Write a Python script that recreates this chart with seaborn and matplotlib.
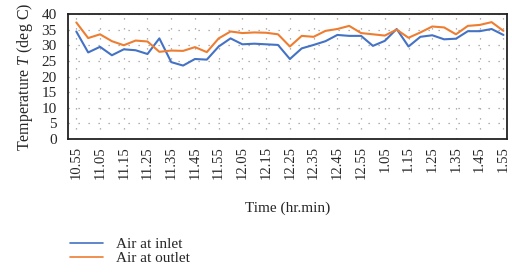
import numpy as np
import pandas as pd
import matplotlib
matplotlib.use("Agg")
import matplotlib.pyplot as plt
import seaborn as sns

# lecturas cada 5 minutos, de 10.55 a 1.55
tick_labels = ["10.55", "11.05", "11.15", "11.25", "11.35", "11.45", "11.55",
               "12.05", "12.15", "12.25", "12.35", "12.45", "12.55",
               "1.05", "1.15", "1.25", "1.35", "1.45", "1.55"]

air_inlet = [34.4, 27.7, 29.5, 26.8, 28.7, 28.4, 27.2, 32.2, 24.6, 23.5,
             25.6, 25.4, 29.6, 32.2, 30.3, 30.5, 30.3, 30.1, 25.6, 29.0,
             30.1, 31.3, 33.3, 33.0, 33.0, 29.8, 31.4, 35.2, 29.6, 32.7,
             33.2, 31.9, 32.1, 34.5, 34.5, 35.2, 33.3]
air_outlet = [37.3, 32.3, 33.5, 31.3, 30.0, 31.5, 31.2, 27.9, 28.3, 28.2,
              29.4, 27.8, 32.2, 34.4, 33.9, 34.1, 34.0, 33.5, 29.6, 33.0,
              32.7, 34.6, 35.2, 36.2, 33.9, 33.5, 33.1, 35.0, 32.4, 34.1,
              36.0, 35.7, 33.5, 36.2, 36.5, 37.4, 34.6]

paso = np.arange(len(air_inlet))
df = pd.DataFrame({
    "paso": np.concatenate([paso, paso]),
    "temp": air_inlet + air_outlet,
    "serie": ["Air at inlet"] * len(paso) + ["Air at outlet"] * len(paso),
})

sns.set_style("white")
plt.rcParams["font.family"] = ["Liberation Serif", "DejaVu Serif"]
plt.rcParams["mathtext.fontset"] = "custom"
plt.rcParams["mathtext.it"] = "Liberation Serif:italic"
plt.rcParams["mathtext.rm"] = "Liberation Serif"

fig = plt.figure(figsize=(5.12, 2.73), dpi=100)
ax = fig.add_axes([68 / 512, 1 - 139 / 273, 439 / 512, 125 / 273])

sns.lineplot(data=df, x="paso", y="temp", hue="serie",
             palette=["#4472C4", "#ED7D31"], linewidth=1.5, ax=ax, legend=False)

ax.set_xlim(-0.7, len(paso) - 1 + 0.3)
ax.set_ylim(0, 40)
ax.set_yticks(range(0, 41, 5))
ax.set_xticks(paso[::2])
ax.set_xticklabels(tick_labels, rotation=90)
ax.tick_params(axis="x", direction="out", length=3, width=1, labelsize=10.5, pad=2)
ax.tick_params(axis="y", length=0, labelsize=11, pad=8)

ax.grid(True, color="#999999", linestyle=(0, (1, 7)), linewidth=0.9)
for s in ax.spines.values():
    s.set_color("#222222")
    s.set_linewidth(1.3)

ax.set_xlabel("Time (hr.min)", fontsize=11, labelpad=16)
ax.set_ylabel("Temperature $T$ (deg C)", fontsize=11.5, labelpad=5)

h1, = ax.plot([], [], color="#4472C4", linewidth=1.2, label="Air at inlet")
h2, = ax.plot([], [], color="#ED7D31", linewidth=1.2, label="Air at outlet")
fig.legend(handles=[h1, h2], loc="lower left", bbox_to_anchor=(62 / 512, 0.0),
           frameon=False, fontsize=11, handlelength=2.2, handletextpad=0.85,
           labelspacing=0.05, borderaxespad=0.1)

fig.savefig("out.png", dpi=100)
